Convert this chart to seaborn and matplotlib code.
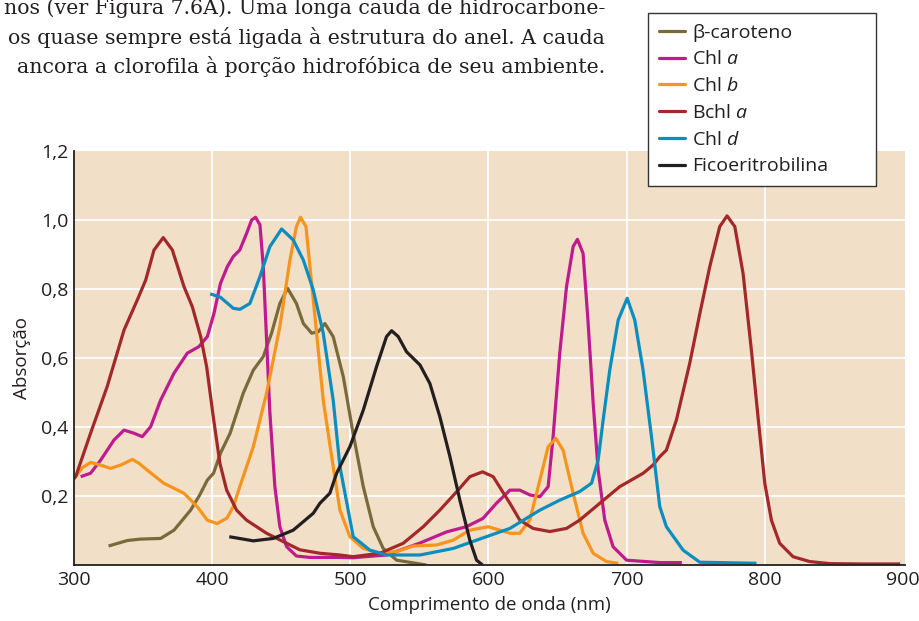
import numpy as np
import pandas as pd
import matplotlib
matplotlib.use("Agg")
import matplotlib.pyplot as plt
from matplotlib.lines import Line2D
import seaborn as sns

# absorption spectra (wavelength in nm, absorption)
bcar_nm = [325, 338.6, 348, 362.7, 372.4, 384.4, 391, 396.5, 401, 406, 413, 422.5, 429.8, 437, 443, 449, 454.6,
           461, 466, 472, 476.8, 481.6, 487.6, 494.9, 502, 509.4, 516.6, 523.8, 533.5, 555]
bcar_abs = [0.055, 0.071, 0.075, 0.077, 0.101, 0.159, 0.203, 0.246, 0.266, 0.324, 0.382, 0.498, 0.565, 0.604, 0.672,
            0.758, 0.802, 0.758, 0.70, 0.672, 0.676, 0.70, 0.662, 0.546, 0.382, 0.227, 0.111, 0.048, 0.014, 0.0]

chla_nm = [304.8, 312, 319.3, 328.9, 336.2, 343.4, 349.4, 355.5, 362.7, 372.4, 382, 390.4, 396.5, 401.3, 406, 411,
           415.3, 420, 424.9, 428.6, 431.4, 434.6, 437, 439.4, 441.8, 445.4, 449, 453.9, 461, 470.8, 492.5, 502,
           526, 550, 569.7, 584, 596, 605.8, 615.5, 622.7, 630, 637.2, 643.2, 646.8, 651.6, 656.5, 661.3, 664.4,
           668.5, 672, 675.8, 679.4, 684.2, 690.2, 700, 724, 740]
chla_abs = [0.256, 0.266, 0.304, 0.362, 0.391, 0.382, 0.372, 0.401, 0.478, 0.556, 0.614, 0.633, 0.662, 0.729, 0.816,
            0.865, 0.894, 0.913, 0.961, 1.0, 1.008, 0.986, 0.865, 0.652, 0.44, 0.227, 0.111, 0.053, 0.026, 0.022,
            0.022, 0.021, 0.029, 0.063, 0.096, 0.111, 0.135, 0.179, 0.217, 0.217, 0.203, 0.198, 0.227, 0.372, 0.614,
            0.807, 0.923, 0.944, 0.903, 0.71, 0.469, 0.275, 0.13, 0.053, 0.014, 0.007, 0.007]

chlb_nm = [301.2, 306, 312, 319, 326.5, 334, 342.2, 347, 353, 365, 379.6, 389.2, 396.5, 403.5, 410.7, 415.3, 420,
           429.8, 439.4, 449, 456.3, 461, 464, 467.9, 473.2, 480.4, 487.6, 492.5, 499.7, 509.4, 521.4, 533.5,
           545.5, 562.4, 574.5, 586.5, 599.8, 608.2, 615.5, 622.7, 629.9, 637.2, 643.2, 648.8, 654, 661.3, 668.5,
           675.8, 685.4, 694]
chlb_abs = [0.256, 0.282, 0.297, 0.29, 0.28, 0.29, 0.306, 0.295, 0.275, 0.237, 0.208, 0.169, 0.13, 0.12, 0.136,
            0.169, 0.227, 0.343, 0.498, 0.691, 0.884, 0.981, 1.008, 0.981, 0.768, 0.478, 0.285, 0.159, 0.082,
            0.048, 0.034, 0.039, 0.055, 0.058, 0.072, 0.101, 0.111, 0.101, 0.092, 0.092, 0.13, 0.246, 0.343,
            0.367, 0.333, 0.208, 0.092, 0.034, 0.01, 0.005]

bchla_nm = [300, 301.2, 312, 324, 336.2, 345.8, 351.9, 357.9, 364.6, 371.2, 379.6, 385.6, 391.7, 396, 400.8, 405.6,
            410.5, 417.7, 424.9, 439.4, 453.9, 463.5, 478, 492.5, 502, 521.4, 538.3, 552.8, 564.8, 576.9, 586.5,
            595.7, 603.4, 615.5, 622.7, 632.3, 644.4, 656.5, 666, 680.6, 695, 712, 719.2, 724, 728.8, 736, 745.7,
            753, 760.2, 767.4, 772.7, 778.3, 784.3, 790.3, 795.1, 800, 804.8, 810.8, 820.5, 832.5, 847, 870, 898]
bchla_abs = [0.25, 0.256, 0.382, 0.517, 0.681, 0.768, 0.826, 0.913, 0.949, 0.913, 0.807, 0.749, 0.662, 0.575, 0.43,
             0.295, 0.217, 0.159, 0.13, 0.092, 0.063, 0.044, 0.034, 0.029, 0.024, 0.034, 0.063, 0.111, 0.159, 0.212,
             0.256, 0.27, 0.256, 0.179, 0.13, 0.106, 0.097, 0.106, 0.13, 0.179, 0.227, 0.266, 0.29, 0.314, 0.333,
             0.42, 0.585, 0.729, 0.865, 0.981, 1.012, 0.981, 0.845, 0.623, 0.43, 0.237, 0.13, 0.063, 0.024, 0.01,
             0.004, 0.003, 0.003]

chld_nm = [398.6, 406, 415.3, 420.1, 427.3, 434.6, 441.8, 450.3, 458.7, 466, 473.2, 480.4, 487.6, 492.5, 502.1,
           514.2, 526.2, 550.4, 574.5, 591.4, 615.5, 637.2, 651.6, 666.1, 674.6, 679.4, 683, 687.8, 693.9, 700.4,
           705.9, 711.9, 718, 724, 728.8, 740.9, 753, 794]
chld_abs = [0.786, 0.776, 0.744, 0.741, 0.758, 0.836, 0.923, 0.974, 0.942, 0.884, 0.797, 0.672, 0.478, 0.285,
            0.082, 0.043, 0.029, 0.029, 0.048, 0.072, 0.106, 0.159, 0.188, 0.213, 0.237, 0.304, 0.42, 0.565, 0.71,
            0.773, 0.71, 0.565, 0.372, 0.169, 0.111, 0.043, 0.008, 0.005]

fico_nm = [412.4, 429.8, 444.2, 458.7, 473.2, 478, 485.2, 490.1, 499.7, 509.4, 519, 526.2, 529.9, 534.7, 540.7,
           550.4, 557.6, 564.8, 572.1, 579.3, 586.5, 591.4, 595.7]
fico_abs = [0.082, 0.07, 0.077, 0.101, 0.15, 0.179, 0.208, 0.266, 0.343, 0.449, 0.575, 0.662, 0.679, 0.662, 0.618,
            0.58, 0.526, 0.43, 0.314, 0.188, 0.072, 0.014, 0.0]

pigments = ['β-caroteno', 'Chl a', 'Chl b', 'Bchl a', 'Chl d', 'Ficoeritrobilina']
legend_labels = ['β-caroteno', 'Chl $a$', 'Chl $b$', 'Bchl $a$', 'Chl $d$', 'Ficoeritrobilina']
colors = ['#7a6a3a', '#bf1a8e', '#f7941d', '#a3282a', '#0a8dbf', '#231f20']

x_ticks = [300, 400, 500, 600, 700, 800, 900]
y_ticks = [0.2, 0.4, 0.6, 0.8, 1.0, 1.2]
y_ticklabels = ['0,2', '0,4', '0,6', '0,8', '1,0', '1,2']

text_lines = ['nos (ver Figura 7.6A). Uma longa cauda de hidrocarbone-',
              'os quase sempre está ligada à estrutura do anel. A cauda',
              'ancora a clorofila à porção hidrofóbica de seu ambiente.']

frames = []
for name, xs, ys in zip(pigments,
                        [bcar_nm, chla_nm, chlb_nm, bchla_nm, chld_nm, fico_nm],
                        [bcar_abs, chla_abs, chlb_abs, bchla_abs, chld_abs, fico_abs]):
    frames.append(pd.DataFrame({'nm': xs, 'abs': ys, 'pigmento': name}))
df = pd.concat(frames, ignore_index=True)

sns.set_theme(style='white')
plt.rcParams['font.family'] = ['Open Sans', 'DejaVu Sans']
plt.rcParams['mathtext.fontset'] = 'custom'
plt.rcParams['mathtext.it'] = 'Open Sans:italic'
plt.rcParams['mathtext.rm'] = 'Open Sans'

fig = plt.figure(figsize=(9.2, 6.21), dpi=100)
ax = fig.add_axes([74 / 920, 1 - 565 / 621, (905 - 74) / 920, 414 / 621])
ax.set_facecolor('#f1dfc8')

for xv in x_ticks[1:-1]:
    ax.axvline(xv, color='white', lw=1.3, zorder=0)
for yv in y_ticks[:-1]:
    ax.axhline(yv, color='white', lw=1.3, zorder=0)

sns.lineplot(data=df, x='nm', y='abs', hue='pigmento', hue_order=pigments,
             palette=colors, estimator=None, sort=False, lw=2.3, legend=False, ax=ax)
for ln in ax.get_lines():
    ln.set_solid_joinstyle('round')
    ln.set_solid_capstyle('butt')

ax.set_xlim(300, 901.5)
ax.set_ylim(0, 1.2)
ax.set_xticks(x_ticks)
ax.set_yticks(y_ticks)
ax.set_yticklabels(y_ticklabels)
ax.tick_params(direction='in', length=7, width=1.1, color='#333333', labelsize=14,
               labelcolor='#231f20', pad=4)
for s in ['top', 'right']:
    ax.spines[s].set_visible(False)
for s in ['left', 'bottom']:
    ax.spines[s].set_color('#231f20')
    ax.spines[s].set_linewidth(1.3)
ax.set_xlabel('Comprimento de onda (nm)', fontsize=13.5, color='#231f20', labelpad=5)
ax.set_ylabel('Absorção', fontsize=13.5, color='#231f20', labelpad=7)

# legend box sits partly above the axes, like in the book figure
handles = [Line2D([], [], color=c, lw=2.3) for c in colors]
leg = fig.legend(handles, legend_labels, loc='upper left',
                 bbox_to_anchor=(648 / 920, 1 - 185 / 621, 228 / 920, 172 / 621), mode='expand',
                 frameon=True, fancybox=False, fontsize=14, handlelength=1.35,
                 handletextpad=0.36, labelspacing=0.45, borderpad=0.55, borderaxespad=0)
leg.get_frame().set_edgecolor('#333333')
leg.get_frame().set_linewidth(1.0)
leg.get_frame().set_facecolor('white')
leg.get_frame().set_alpha(1)
for t in leg.get_texts():
    t.set_color('#231f20')

for i, line in enumerate(text_lines):
    fig.text(605 / 920, 1 - (14 + 29.5 * i) / 621, line, ha='right', va='baseline',
             family='DejaVu Serif', fontsize=14.8, color='#231f20')

fig.savefig('out.png', dpi=100)
